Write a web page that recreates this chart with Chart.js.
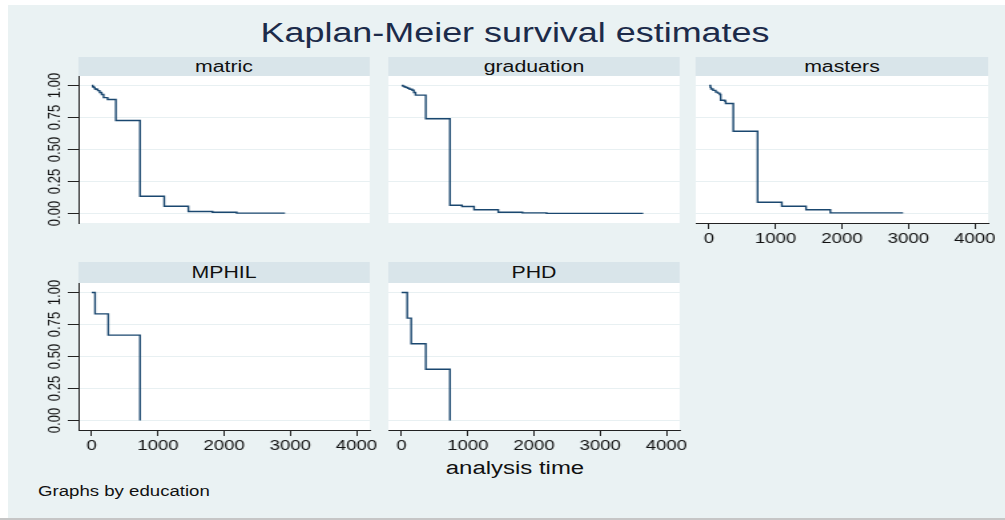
<!DOCTYPE html>
<html>
<head>
<meta charset="utf-8">
<title>Kaplan-Meier survival estimates</title>
<script src="https://cdn.jsdelivr.net/npm/chart.js"></script>
<style>
  html, body { margin: 0; padding: 0; background: #fff; }
  body { width: 1005px; height: 520px; overflow: hidden; position: relative; font-family: "Liberation Sans", Arial, sans-serif; }
  #page { position: absolute; left: 0; top: 0; height: 520px; transform-origin: 0 0; }
  #page div, #page canvas { position: absolute; }
  .strip { background: #d9e5ea; color: #111; font-size: 16px; text-align: center; }
</style>
</head>
<body>
<div id="page"></div>

<script>
  // values (time in days, survival probability)
  var panelNames = ['matric', 'graduation', 'masters', 'MPHIL', 'PHD'];

  var matricTime = [0, 15, 30, 45, 60, 90, 120, 150, 180, 240, 365, 730, 1095, 1460, 1825, 2190, 2920];
  var matricSurv = [1, 0.99, 0.985, 0.975, 0.97, 0.96, 0.945, 0.93, 0.905, 0.89, 0.727, 0.135, 0.057, 0.016, 0.01, 0.003, 0.003];

  var graduationTime = [0, 20, 40, 60, 90, 120, 160, 185, 210, 365, 730, 912, 1095, 1460, 1825, 2190, 3650];
  var graduationSurv = [1, 0.995, 0.99, 0.985, 0.978, 0.97, 0.963, 0.945, 0.925, 0.74, 0.065, 0.055, 0.03, 0.01, 0.005, 0.001, 0.001];

  var mastersTime = [0, 20, 30, 60, 100, 130, 160, 175, 240, 250, 365, 730, 1095, 1460, 1825, 2920];
  var mastersSurv = [1, 0.985, 0.972, 0.962, 0.948, 0.94, 0.93, 0.885, 0.877, 0.859, 0.643, 0.088, 0.057, 0.029, 0.005, 0.005];

  var mphilTime = [0, 50, 250, 730];
  var mphilSurv = [1, 0.833, 0.667, 0];

  var phdTime = [0, 85, 145, 365, 730];
  var phdSurv = [1, 0.8, 0.6, 0.4, 0];

  var xTicks = [0, 1000, 2000, 3000, 4000];
  var yTicks = [0, 0.25, 0.5, 0.75, 1];
  var yTickLabels = ['0.00', '0.25', '0.50', '0.75', '1.00'];

  // the original picture is stretched sideways, so the whole page is too
  var S = 1.33;
  function ux(p) { return p / S; }

  var page = document.getElementById('page');
  page.style.width = ux(1005) + 'px';
  page.style.transform = 'scaleX(' + S + ')';

  function addDiv(x, y, w, h, css, text) {
    var d = document.createElement('div');
    d.style.left = ux(x) + 'px';
    d.style.top = y + 'px';
    d.style.width = ux(w) + 'px';
    d.style.height = h + 'px';
    d.style.cssText += css;
    if (text) d.textContent = text;
    page.appendChild(d);
    return d;
  }

  // background and frame
  addDiv(8, 5, 997, 513, 'background:#eaf2f3;');
  addDiv(0, 518, 1005, 2, 'background:#c6c6c6;');
  addDiv(15, 17, 1000, 32, 'font-size:27px;line-height:32px;text-align:center;color:#1c2b4a;', 'Kaplan-Meier survival estimates');
  addDiv(315, 457, 400, 22, 'font-size:18px;line-height:22px;text-align:center;color:#111;', 'analysis time');
  addDiv(38, 482, 300, 18, 'font-size:14px;line-height:18px;color:#111;', 'Graphs by education');

  var colLeft = [78, 388, 696];
  var plotW = 292, plotH = 147;
  var stripTop = [57, 262], stripH = [19, 21];
  var plotTop = [76, 283];
  var AX = 40, XB = 30, PR = 20, TP = 14;

  var panelPlugin = {
    id: 'panelPlugin',
    beforeDraw: function (chart) {
      var a = chart.chartArea, ctx = chart.ctx;
      ctx.save();
      ctx.fillStyle = '#fff';
      ctx.fillRect(a.left, a.top, a.right - a.left, a.bottom - a.top);
      ctx.restore();
    },
    afterDraw: function (chart, args, opts) {
      if (!opts.showY) return;
      var ys = chart.scales.y, ctx = chart.ctx;
      ctx.save();
      ctx.font = '13px "Liberation Sans", Arial, sans-serif';
      ctx.fillStyle = '#111';
      ctx.textAlign = 'center';
      ctx.textBaseline = 'middle';
      yTicks.forEach(function (v, i) {
        ctx.save();
        ctx.translate(chart.chartArea.left - ux(24), ys.getPixelForValue(v));
        ctx.rotate(-Math.PI / 2);
        ctx.fillText(yTickLabels[i], 0, 0);
        ctx.restore();
      });
      ctx.restore();
    }
  };

  function makePanel(name, times, surv, col, row, showY, showX) {
    addDiv(colLeft[col], stripTop[row], plotW, stripH[row],
      'line-height:' + stripH[row] + 'px;', name).className = 'strip';

    var cv = document.createElement('canvas');
    var w = AX + ux(plotW) + PR, h = TP + plotH + XB;
    cv.width = w; cv.height = h;
    cv.style.left = (ux(colLeft[col]) - AX) + 'px';
    cv.style.top = (plotTop[row] - TP) + 'px';
    cv.style.width = w + 'px';
    cv.style.height = h + 'px';
    page.appendChild(cv);

    var pts = times.map(function (t, i) { return { x: t, y: surv[i] }; });

    new Chart(cv.getContext('2d'), {
      type: 'line',
      data: {
        datasets: [{
          data: pts,
          stepped: true,
          borderColor: '#1a476f',
          borderWidth: 1.4,
          pointRadius: 0,
          fill: false
        }]
      },
      options: {
        responsive: false,
        animation: false,
        events: [],
        layout: { padding: { left: 0, right: PR, top: TP, bottom: 0 } },
        plugins: {
          legend: { display: false },
          tooltip: { enabled: false },
          panelPlugin: { showY: showY }
        },
        scales: {
          x: {
            type: 'linear',
            min: -200,
            max: 4200,
            afterBuildTicks: function (s) { s.ticks = xTicks.map(function (v) { return { value: v }; }); },
            afterFit: function (s) { s.height = XB; },
            grid: { drawOnChartArea: false, drawTicks: showX, tickLength: 6, tickColor: '#222' },
            border: { display: showX, color: '#222', width: 1 },
            ticks: {
              display: showX,
              autoSkip: false,
              maxRotation: 0,
              padding: 2,
              color: '#111',
              font: { family: '"Liberation Sans", Arial, sans-serif', size: 14 },
              callback: function (v) { return String(v); }
            }
          },
          y: {
            min: -0.074,
            max: 1.074,
            afterBuildTicks: function (s) { s.ticks = yTicks.map(function (v) { return { value: v }; }); },
            afterFit: function (s) { s.width = AX; },
            grid: { color: '#e8f0f2', lineWidth: 1, drawTicks: showY, tickLength: 8, tickColor: '#222' },
            border: { display: showY, color: '#222', width: 1 },
            ticks: { display: false }
          }
        }
      },
      plugins: [panelPlugin]
    });
  }

  makePanel(panelNames[0], matricTime, matricSurv, 0, 0, true, false);
  makePanel(panelNames[1], graduationTime, graduationSurv, 1, 0, false, false);
  makePanel(panelNames[2], mastersTime, mastersSurv, 2, 0, false, true);
  makePanel(panelNames[3], mphilTime, mphilSurv, 0, 1, true, true);
  makePanel(panelNames[4], phdTime, phdSurv, 1, 1, false, true);
</script>
</body>
</html>
